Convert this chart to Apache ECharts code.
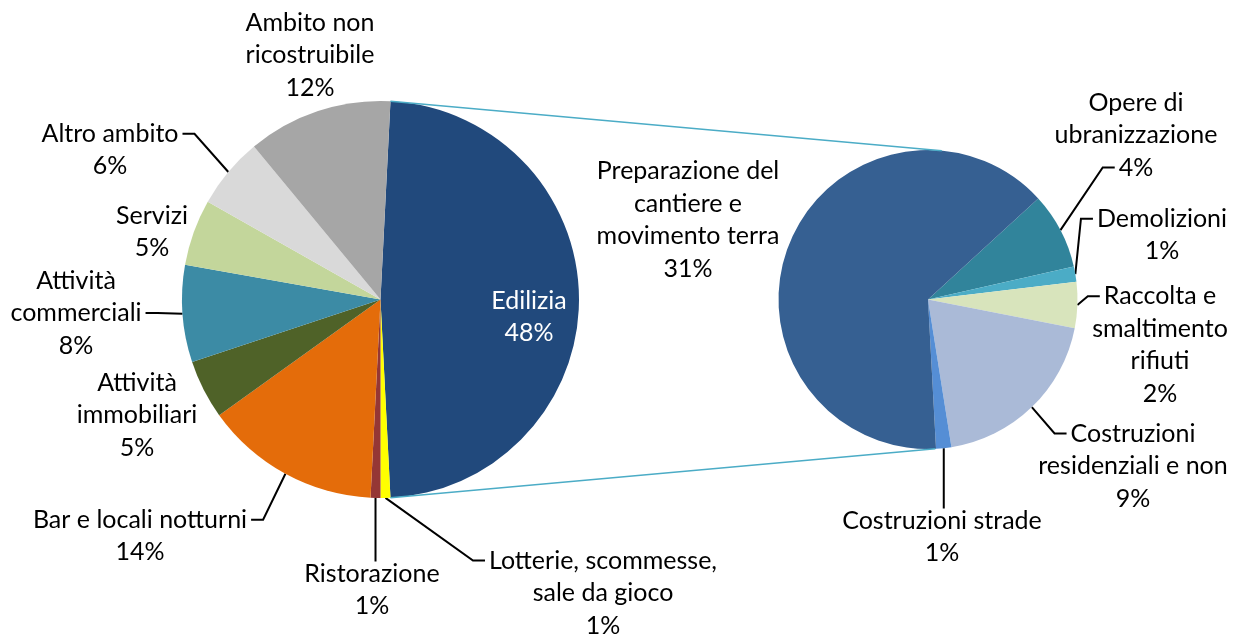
<!DOCTYPE html>
<html>
<head>
<meta charset="utf-8">
<style>
  html, body { margin: 0; padding: 0; background: #fff; }
  #chart { width: 1237px; height: 635px; }
</style>
<script src="https://cdn.jsdelivr.net/npm/echarts@6/dist/echarts.min.js"></script>
</head>
<body>
<div id="chart"></div>
<script>
  // --- Data ---
  const mainNames = [
    'Edilizia',
    'Lotterie, scommesse,\nsale da gioco',
    'Ristorazione',
    'Bar e locali notturni',
    'Attività\nimmobiliari',
    'Attività\ncommerciali',
    'Servizi',
    'Altro ambito',
    'Ambito non\nricostruibile'
  ];
  const mainValues = [48.4, 0.8, 0.8, 14.3, 4.8, 7.9, 5.4, 5.8, 11.8];
  const mainColors = ['#21497c', '#ffff00', '#953735', '#e46c0a', '#4f6228',
    '#3c8ba5', '#c3d69b', '#d9d9d9', '#a6a6a6'];

  // breakdown of "Edilizia"
  const subNames = [
    'Opere di\nubranizzazione',
    'Demolizioni',
    'Raccolta e\nsmaltimento\nrifiuti',
    'Costruzioni\nresidenziali e non',
    'Costruzioni strade',
    'Preparazione del\ncantiere e\nmovimento terra'
  ];
  const subValues = [4.0, 0.8, 2.4, 9.4, 0.8, 31.0];
  const subColors = ['#31849b', '#4bacc6', '#d8e4bc', '#aabad7', '#558ed5', '#366092'];

  // --- Layout ---
  const FONT = 'Lato';
  const FONT_SIZE = 25;
  const LINE_H = 32.5;

  const MAIN = { cx: 380.5, cy: 299.5, r: 198.5 };
  const SUB = { cx: 928, cy: 299.5, r: 149.5 };
  const SUB_START = 42.5;
  const SUB_TOP_OFF = 5.3, SUB_BOT_OFF = 2.8;

  // centres of the label blocks
  const mainLabelPos = [[529, 317], [603, 593], [372, 590], [140, 536], [137, 415],
    [76, 313], [152, 232], [110, 150], [310, 55]];
  const subLabelPos = [[1136, 135], [1162, 235], [1160, 345], [1133, 466], [942, 537], [688, 220]];

  // where each leader line meets its label
  const mainLeaders = {
    1: { side: 'left', line: 0 },
    2: { side: 'top' },
    3: { side: 'right', line: 0 },
    5: { side: 'right', line: 1 },
    7: { side: 'right', line: 0 }
  };
  const subLeaders = {
    0: { side: 'left', line: 2 },
    1: { side: 'left', line: 0 },
    2: { side: 'left', line: 0 },
    3: { side: 'left', line: 0 },
    4: { side: 'top' }
  };

  function sum(a) { return a.reduce((s, v) => s + v, 0); }

  // the "other" slice sits centred on 3 o'clock, like Excel's pie of pie
  const mainStart = mainValues[0] / sum(mainValues) * 180;

  function midAngles(values, start) {
    const total = sum(values);
    let acc = 0;
    return values.map(v => {
      const a = start - (acc + v / 2) / total * 360;
      acc += v;
      return a;
    });
  }

  function edgePoint(geo, deg) {
    const t = deg * Math.PI / 180;
    return [geo.cx + geo.r * Math.cos(t), geo.cy - geo.r * Math.sin(t)];
  }

  const ctx = document.createElement('canvas').getContext('2d');
  ctx.font = FONT_SIZE + 'px ' + FONT;
  function textW(s) { return ctx.measureText(s).width; }

  function labelText(name, value) { return name + '\n' + Math.round(value) + '%'; }

  function leaderPoints(text, pos, start, spec) {
    const lines = text.split('\n');
    const top = pos[1] - lines.length * LINE_H / 2;
    if (spec.side === 'top') {
      const y = top + 4;
      return [start, [start[0], (start[1] + y) / 2], [start[0], y]];
    }
    const ly = top + LINE_H * (spec.line + 0.5);
    const half = textW(lines[spec.line]) / 2;
    const ex = spec.side === 'right' ? pos[0] + half + 4 : pos[0] - half - 4;
    const bx = spec.side === 'right' ? ex + 12 : ex - 12;
    return [start, [bx, ly], [ex, ly]];
  }

  function buildSeries(names, values, colors, geo, startAngle, labelPos, leaders) {
    const starts = midAngles(values, startAngle).map(a => edgePoint(geo, a));
    return {
      type: 'pie',
      center: [geo.cx, geo.cy],
      radius: geo.r,
      startAngle: startAngle,
      clockwise: true,
      avoidLabelOverlap: false,
      silent: true,
      itemStyle: { borderWidth: 0 },
      label: {
        show: true,
        position: 'outside',
        alignTo: 'none',
        formatter: p => labelText(p.name, p.value),
        color: '#000',
        fontFamily: FONT,
        fontSize: FONT_SIZE,
        lineHeight: LINE_H,
        align: 'center'
      },
      labelLine: {
        show: true,
        smooth: false,
        lineStyle: { color: '#000', width: 2 }
      },
      data: names.map((n, i) => ({
        name: n,
        value: values[i],
        itemStyle: { color: colors[i] },
        labelLine: { show: !!leaders[i] }
      })),
      labelLayout: function (params) {
        const i = params.dataIndex;
        const pos = labelPos[i];
        const out = { x: pos[0], y: pos[1], align: 'center', verticalAlign: 'middle' };
        if (leaders[i]) {
          out.labelLinePoints = leaderPoints(labelText(names[i], values[i]), pos, starts[i], leaders[i]);
        }
        return out;
      }
    };
  }

  const mainSeries = buildSeries(mainNames, mainValues, mainColors, MAIN, mainStart, mainLabelPos, mainLeaders);
  mainSeries.data[0].label = { color: '#fff' };
  const subSeries = buildSeries(subNames, subValues, subColors, SUB, SUB_START, subLabelPos, subLeaders);

  // series lines joining "Edilizia" to its breakdown
  const mainSpan = mainValues[0] / sum(mainValues) * 360;
  const connectors = [
    [edgePoint(MAIN, mainStart), edgePoint(SUB, 90 - SUB_TOP_OFF)],
    [edgePoint(MAIN, mainStart - mainSpan), edgePoint(SUB, -90 + SUB_BOT_OFF)]
  ];

  const chart = echarts.init(document.getElementById('chart'), null, { renderer: 'canvas' });
  chart.setOption({
    animation: false,
    backgroundColor: '#fff',
    series: [mainSeries, subSeries],
    graphic: connectors.map(c => ({
      type: 'line',
      shape: { x1: c[0][0], y1: c[0][1], x2: c[1][0], y2: c[1][1] },
      style: { stroke: '#4bacc6', lineWidth: 1.5 },
      z: 10
    }))
  });
</script>
</body>
</html>
